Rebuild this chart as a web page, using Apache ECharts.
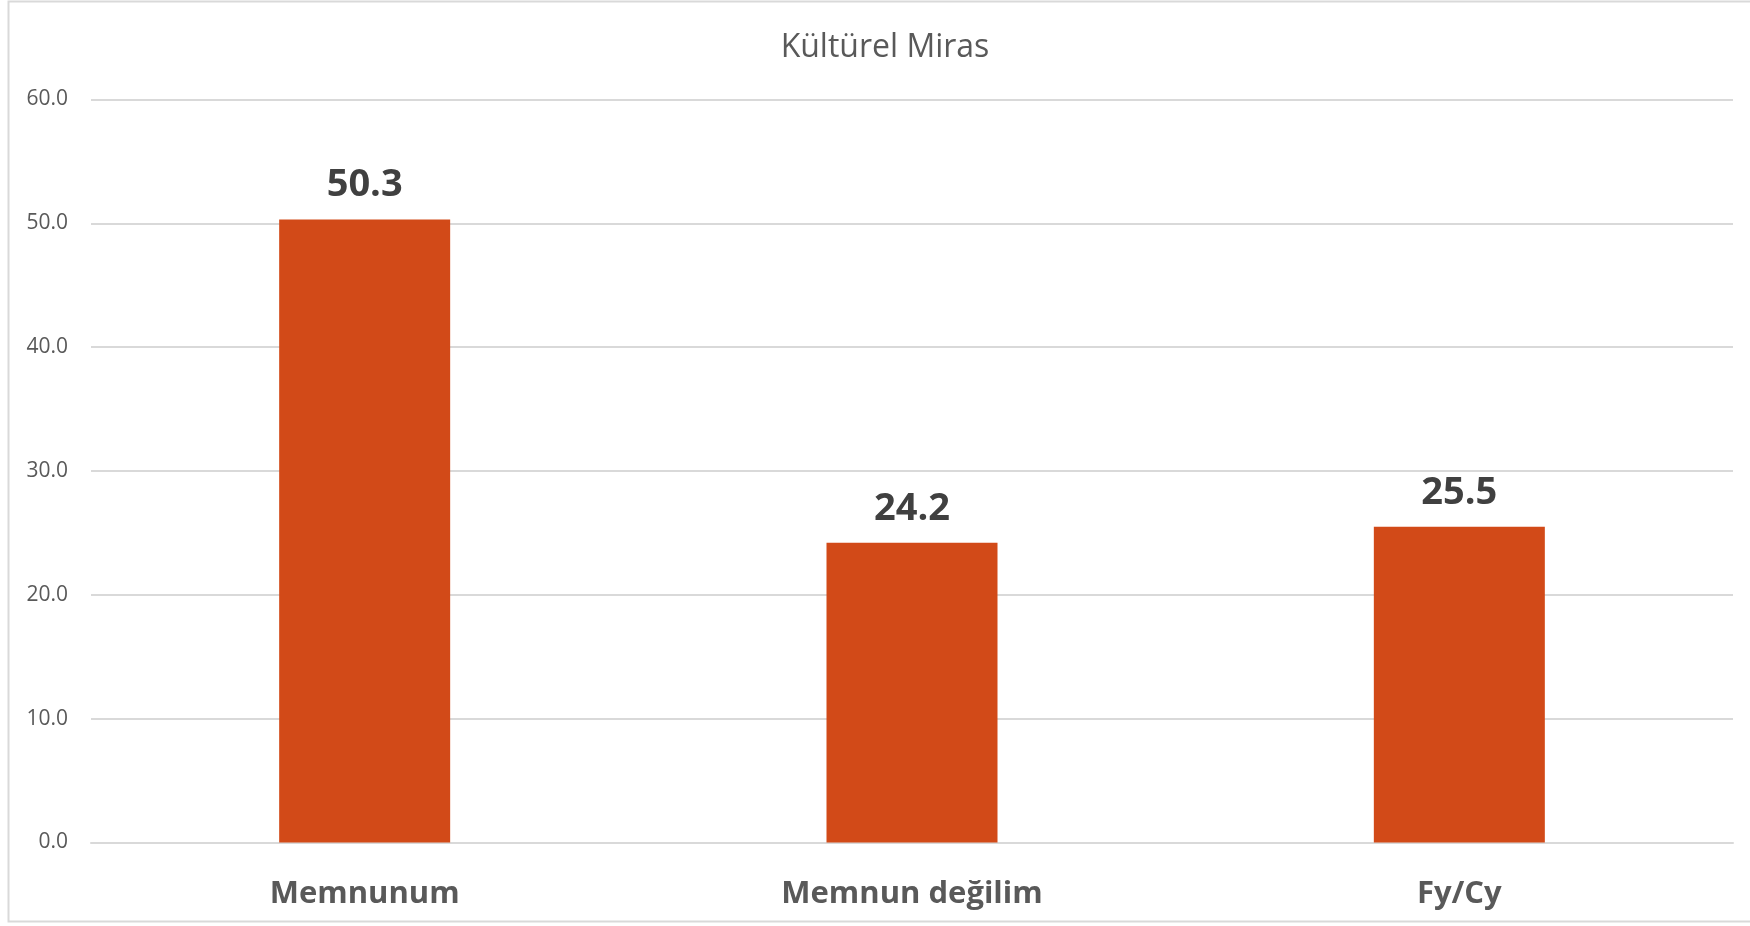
<!DOCTYPE html>
<html>
<head>
<meta charset="utf-8">
<script src="https://cdn.jsdelivr.net/npm/echarts@6/dist/echarts.min.js"></script>
<style>
html,body{margin:0;padding:0;background:#fff;}
#chart{width:1750px;height:926px;}
</style>
</head>
<body>
<div id="chart"></div>
<script>
const titleText = 'Kültürel Miras';
const categories = ['Memnunum', 'Memnun değilim', 'Fy/Cy'];
const values = [50.3, 24.2, 25.5];
const yMin = 0, yMax = 60, yInterval = 10;

const chart = echarts.init(document.getElementById('chart'));
chart.setOption({
  animation: false,
  backgroundColor: '#ffffff',
  graphic: [{
    type: 'rect',
    shape: { x: 8.5, y: 1.5, width: 1760, height: 920 },
    style: { fill: 'none', stroke: '#d9d9d9', lineWidth: 2 },
    silent: true, z: -1
  }],
  title: {
    text: titleText,
    left: 880, top: 27,
    textAlign: 'center',
    textStyle: { fontFamily: 'Open Sans', fontSize: 32, fontWeight: 'normal', color: '#595959' }
  },
  grid: { left: 91, right: 17, top: 99.5, bottom: 83.5, containLabel: false },
  xAxis: {
    type: 'category',
    data: categories,
    axisLine: { show: true, lineStyle: { color: '#d9d9d9', width: 2 } },
    axisTick: { show: false },
    axisLabel: { margin: 36, fontFamily: 'Open Sans', fontSize: 31, fontWeight: 'bold', color: '#595959' }
  },
  yAxis: {
    type: 'value',
    min: yMin, max: yMax, interval: yInterval,
    axisLine: { show: false },
    axisTick: { show: false },
    splitLine: { lineStyle: { color: '#d9d9d9', width: 2 } },
    axisLabel: { margin: 23, fontFamily: 'Open Sans', fontSize: 21, color: '#595959', formatter: v => v.toFixed(1) }
  },
  series: [{
    type: 'bar',
    data: values,
    barWidth: 171,
    itemStyle: { color: '#D24A18' },
    label: {
      show: true, position: 'top', distance: 15,
      fontFamily: 'Open Sans', fontSize: 38, fontWeight: 'bold', color: '#404040',
      formatter: p => p.value.toFixed(1)
    }
  }]
});
</script>
</body>
</html>
